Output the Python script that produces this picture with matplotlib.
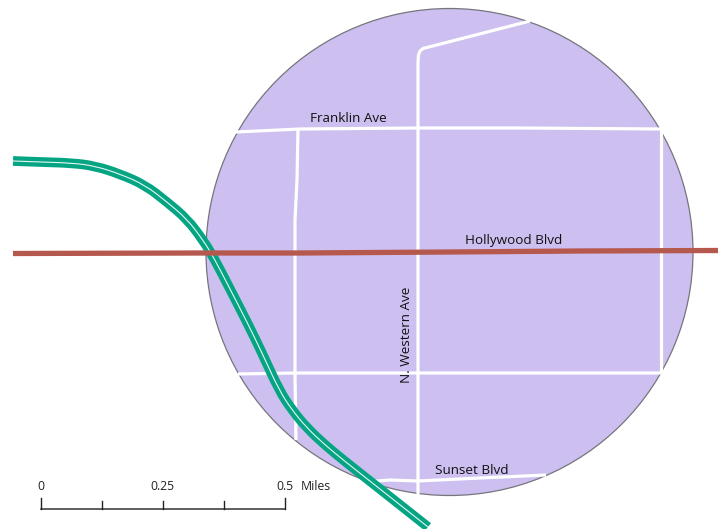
import matplotlib
matplotlib.use("Agg")
import matplotlib.pyplot as plt
from matplotlib.patches import Circle, PathPatch
from matplotlib.path import Path

plt.rcParams['font.family'] = ['Open Sans', 'DejaVu Sans']

# map coordinates (image-pixel based map frame)
circle_center = (449.5, 252)
circle_radius = 243.5

green_x = [13, 40, 72, 95, 120, 145, 167, 187, 203, 214, 230, 247, 263, 279, 292, 307, 325, 347, 380, 428]
green_y = [161, 162, 163, 166, 174, 185, 202, 219, 240, 258, 289, 322, 355, 390, 410, 428, 445, 463, 489, 527]

rail_x = [13, 200, 300, 450, 580, 718]
rail_y = [253.5, 253, 253, 252, 251, 250.5]

roads = {
    "western": ([418, 418, 418, 418.5, 420, 423, 530], [495, 300, 62, 55, 51, 48.5, 21]),
    "franklin": ([236, 300, 418, 520, 661], [132, 129, 128, 128, 129]),
    "west_side": ([298, 297, 295, 295, 296], [129, 180, 220, 375, 440]),
    "east_side": ([661, 661, 661], [129, 250, 373]),
    "cross_south": ([238, 295, 418, 550, 661], [374, 373, 373, 373, 373]),
    "sunset": ([365, 390, 418, 480, 546], [482, 480, 481, 478, 475]),
}

labels = [
    ("Franklin Ave", 348.5, 119, 0),
    ("Hollywood Blvd", 513.5, 240.5, 0),
    ("N. Western Ave", 406, 335, 90),
    ("Sunset Blvd", 472, 471, 0),
]

scale_positions = [40.5, 101.5, 162.5, 223.5, 284.5]
scale_labels = ["0", "", "0.25", "", "0.5"]
scale_unit = "Miles"


def smooth_path(xs, ys):
    """Quadratic path using the read points as control points."""
    pts = list(zip(xs, ys))
    verts = [pts[0]]
    codes = [Path.MOVETO]
    for i in range(1, len(pts) - 1):
        if i < len(pts) - 2:
            end = ((pts[i][0] + pts[i + 1][0]) / 2, (pts[i][1] + pts[i + 1][1]) / 2)
        else:
            end = pts[i + 1]
        verts += [pts[i], end]
        codes += [Path.CURVE3, Path.CURVE3]
    return Path(verts, codes)


fig = plt.figure(figsize=(7.22, 5.29), dpi=100)
ax = fig.add_axes([0, 0, 1, 1])
ax.set_xlim(0, 722)
ax.set_ylim(529, 0)
ax.axis("off")

ax.add_patch(Circle(circle_center, circle_radius, facecolor="#cdbff0",
                    edgecolor="#77757c", linewidth=0.9, zorder=1))

for name, (x, y) in roads.items():
    ax.plot(x, y, color="white", lw=2.3, zorder=2, solid_capstyle="butt", solid_joinstyle="round")

green_path = smooth_path(green_x, green_y)
ax.add_patch(PathPatch(green_path, facecolor="none", edgecolor="#05a584", lw=7.0,
                       capstyle="butt", joinstyle="round", zorder=3))
ax.add_patch(PathPatch(green_path, facecolor="none", edgecolor="#e6f6f2", lw=0.8,
                       capstyle="butt", joinstyle="round", zorder=4))

ax.plot(rail_x, rail_y, color="#b5584e", lw=3.8, zorder=5, solid_capstyle="butt")

for text, x, y, rot in labels:
    ax.text(x, y, text, fontsize=9.7, color="#111111", rotation=rot,
            ha="center", va="center", zorder=6)

# scale bar
ax.plot([scale_positions[0], scale_positions[-1]], [508.5, 508.5], color="#333333", lw=1.1, zorder=6)
for i, (p, lab) in enumerate(zip(scale_positions, scale_labels)):
    top = 498 if i in (0, len(scale_positions) - 1) else 501
    ax.plot([p, p], [top, 509], color="#222222", lw=1.0, zorder=6)
    if lab:
        ax.text(p, 486.5, lab, fontsize=8.8, color="#222222", ha="center", va="center")
ax.text(301, 486.5, scale_unit, fontsize=8.8, color="#222222", ha="left", va="center")

fig.savefig("out.png", dpi=100)
